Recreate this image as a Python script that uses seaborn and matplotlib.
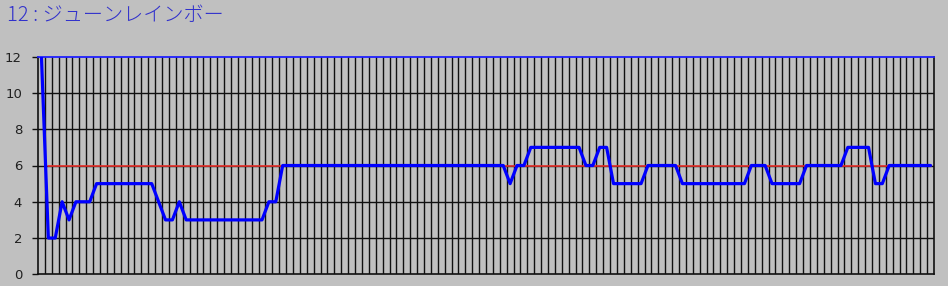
import numpy as np
import pandas as pd
import matplotlib
matplotlib.use("Agg")
import matplotlib.pyplot as plt
import seaborn as sns

# ---- data ----
title = "12 : ジューンレインボー"
values = [12, 2, 2, 4, 3, 4, 4, 4,
          5, 5, 5, 5, 5, 5, 5, 5, 5,
          4, 3, 3, 4,
          3, 3, 3, 3, 3, 3, 3, 3, 3, 3, 3, 3,
          4, 4,
          6, 6, 6, 6, 6, 6, 6, 6, 6, 6, 6, 6, 6, 6, 6, 6, 6, 6, 6, 6, 6, 6,
          6, 6, 6, 6, 6, 6, 6, 6, 6, 6, 6,
          5, 6, 6,
          7, 7, 7, 7, 7, 7, 7, 7,
          6, 6, 7, 7,
          5, 5, 5, 5, 5,
          6, 6, 6, 6, 6,
          5, 5, 5, 5, 5, 5, 5, 5, 5, 5,
          6, 6, 6,
          5, 5, 5, 5, 5,
          6, 6, 6, 6, 6, 6,
          7, 7, 7, 7,
          5, 5,
          6, 6, 6, 6, 6, 6, 6]
reference_level = 6
y_ticks = [0, 2, 4, 6, 8, 10, 12]

n = len(values)
df = pd.DataFrame({"idx": np.arange(n), "value": values,
                   "ref": [reference_level] * n})

# ---- figure ----
sns.set_style("white")
plt.rcParams["font.family"] = ["Noto Sans CJK JP", "DejaVu Sans"]
bg = "#c0c0c0"
fig = plt.figure(figsize=(9.48, 2.86), dpi=100, facecolor=bg)
ax = fig.add_axes([38 / 948, (286 - 274.3) / 286, (934 - 38) / 948, (274.3 - 56.7) / 286])
ax.set_facecolor(bg)

# gridlines
for b in np.arange(0.5, n - 0.5, 1.0):
    ax.axvline(b, color="#101010", lw=1.0, zorder=1)
for t in y_ticks[1:-1]:
    ax.axhline(t, color="#101010", lw=1.0, zorder=1)

sns.lineplot(data=df.iloc[1:], x="idx", y="ref", ax=ax, color="#e8302a", lw=1.2, zorder=3)
sns.lineplot(data=df, x="idx", y="value", ax=ax, color="#0000ff", lw=2.3, zorder=4)

ax.set_xlim(-0.5, n - 0.5)
ax.set_ylim(0, 12)
ax.set_yticks(y_ticks)
ax.set_xticks([])
ax.set_xlabel("")
ax.set_ylabel("")
ax.tick_params(axis="y", length=4.5, width=1.0, color="#101010", pad=7,
               labelsize=9.5, labelcolor="#202020", left=True)
for lab in ax.get_yticklabels():
    lab.set_family(["DejaVu Sans"])

for s in ["left", "right", "bottom"]:
    ax.spines[s].set_visible(True)
    ax.spines[s].set_color("#101010")
    ax.spines[s].set_linewidth(1.2)
ax.spines["top"].set_visible(True)
ax.spines["top"].set_color("#2020ff")
ax.spines["top"].set_linewidth(1.3)

fig.text(7 / 948, 1 - 16 / 286, title, color="#3030cc", fontsize=14.5,
         ha="left", va="center", fontweight="light",
         family=["Noto Sans CJK JP", "DejaVu Sans"])

fig.savefig("out.png", dpi=100, facecolor=bg)
